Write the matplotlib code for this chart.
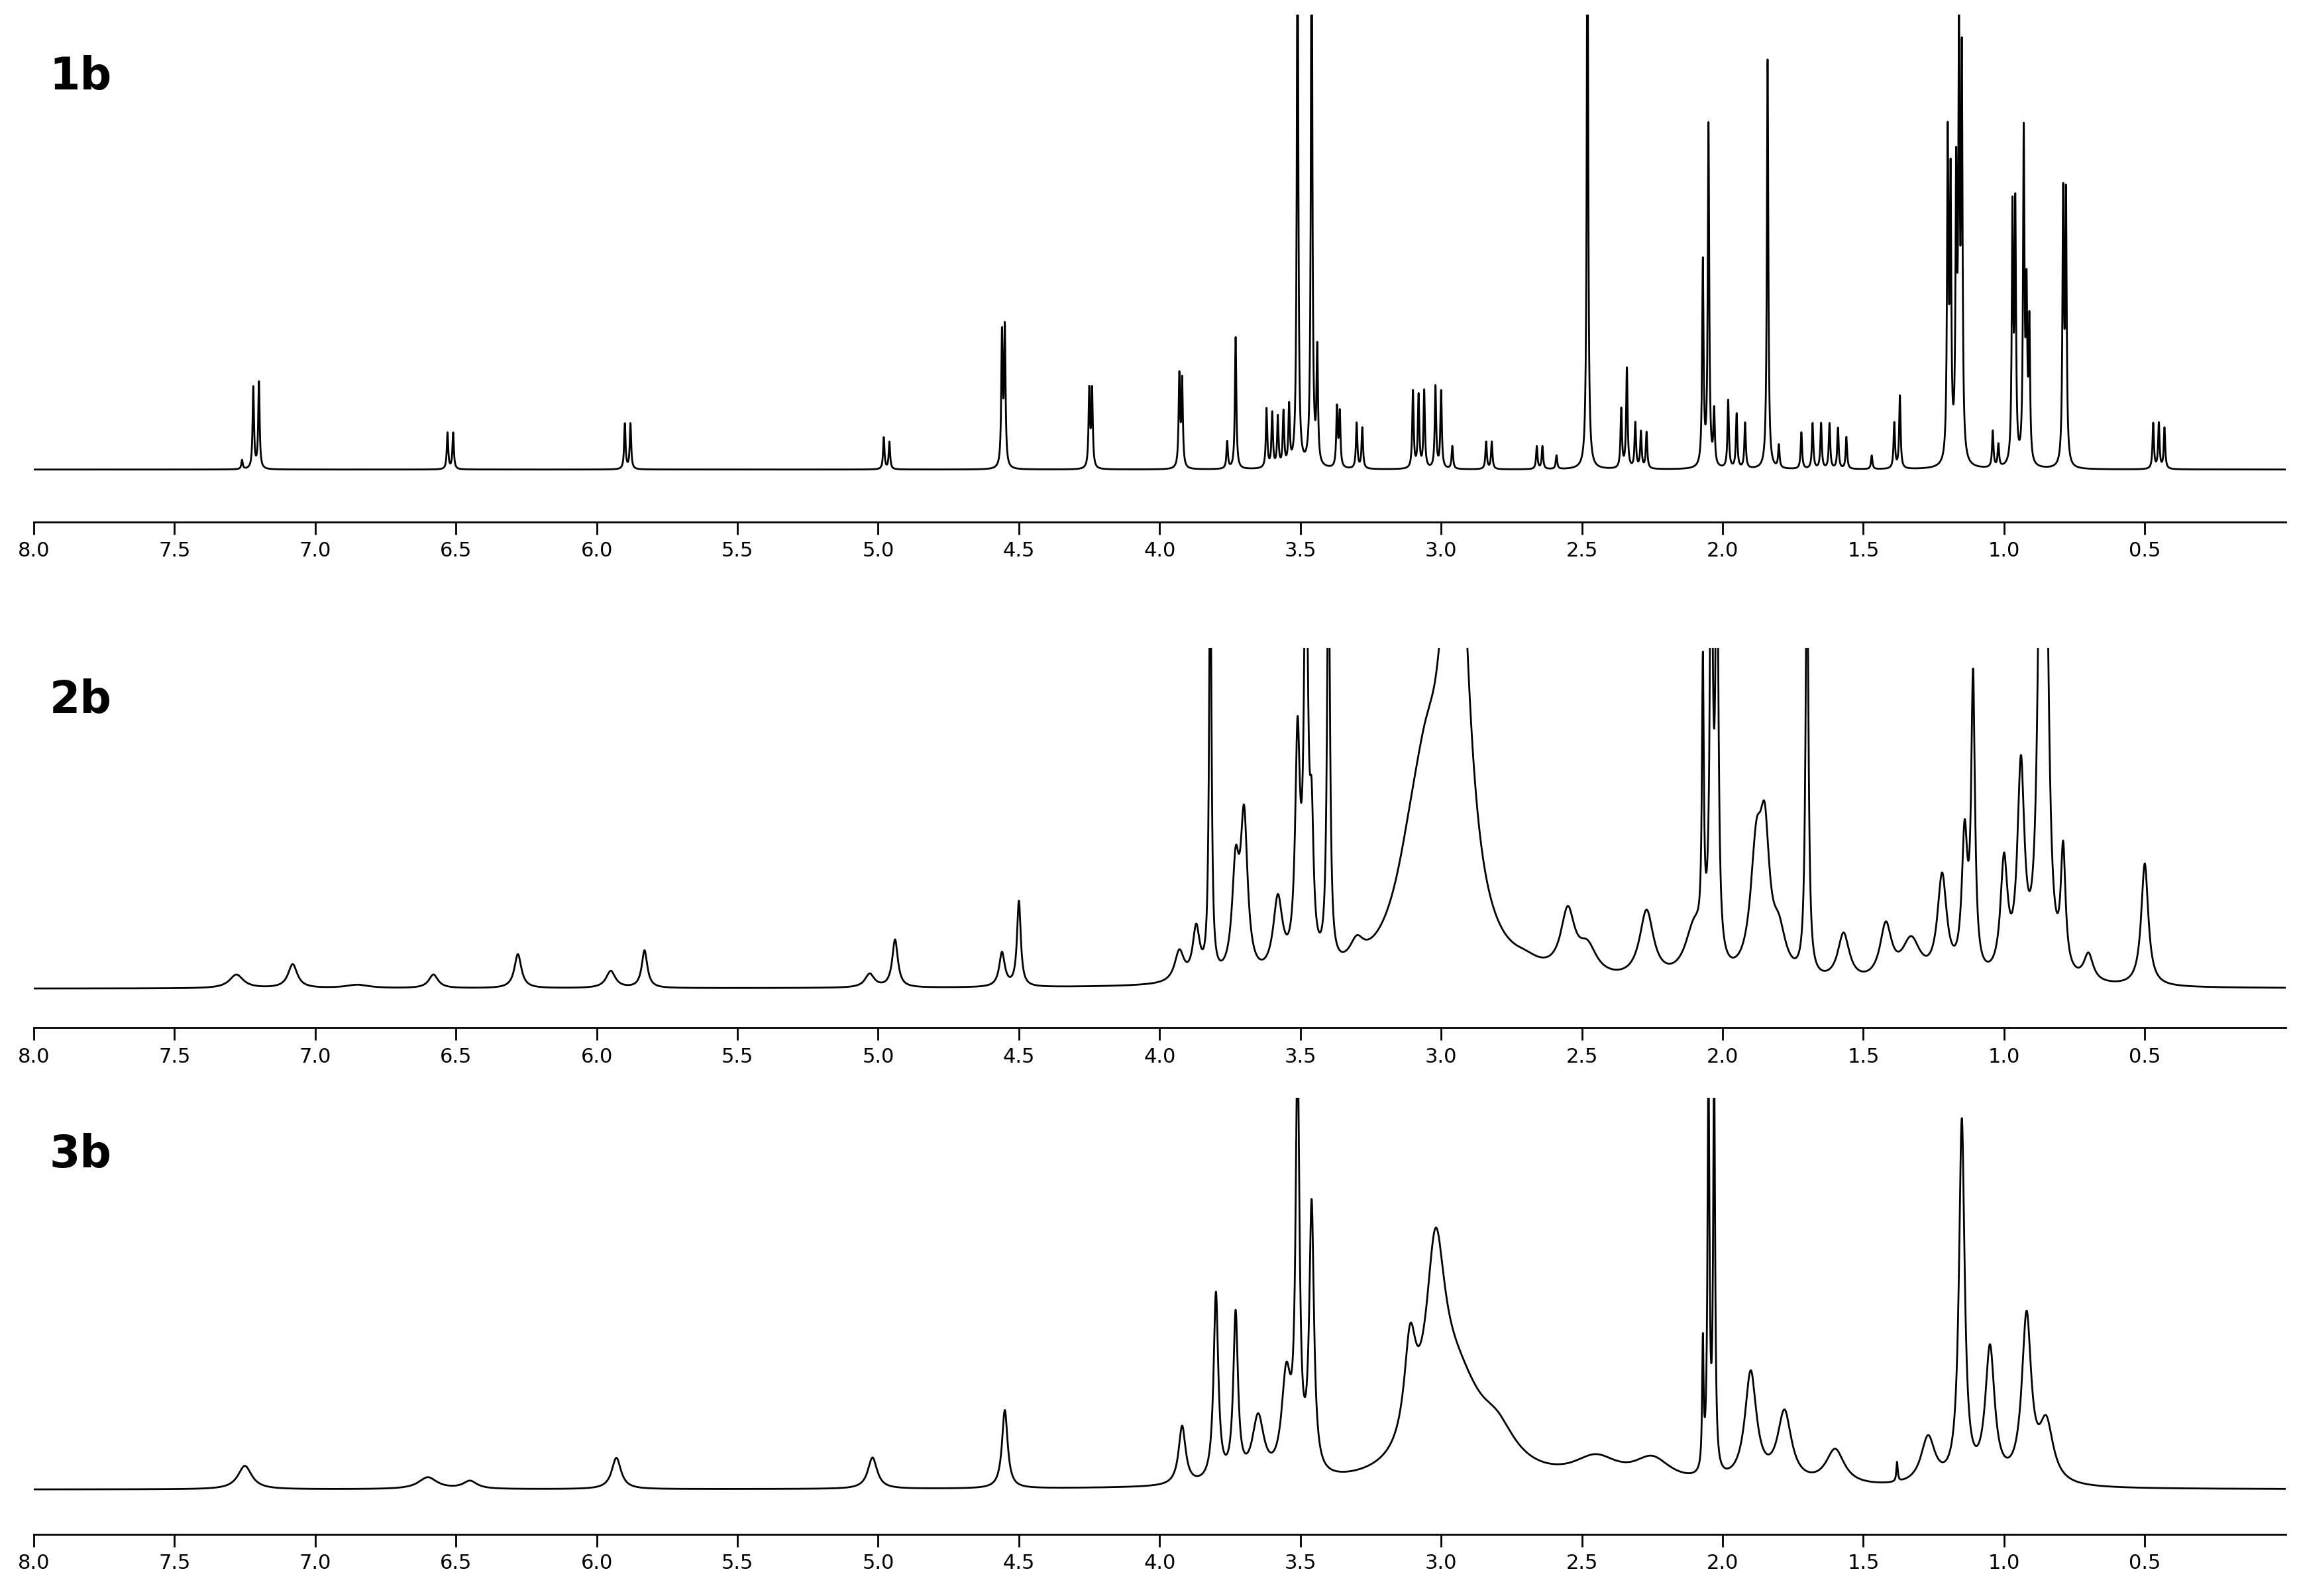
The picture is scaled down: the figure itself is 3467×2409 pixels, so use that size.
import numpy as np
import matplotlib
matplotlib.use("Agg")
import matplotlib.pyplot as plt

labels = ["1b", "2b", "3b"]
ticks = [8.0, 7.5, 7.0, 6.5, 6.0, 5.5, 5.0, 4.5, 4.0, 3.5, 3.0, 2.5, 2.0, 1.5, 1.0, 0.5]

# peaks: (ppm, height, width)
pos1 = [7.26,7.22,7.20,6.53,6.51,5.90,5.88,4.98,4.96,4.56,4.55,4.25,4.24,3.93,3.92,3.76,3.73,
        3.62,3.60,3.58,3.56,3.54,3.51,3.46,3.44,3.37,3.36,3.30,3.28,3.10,3.08,3.06,3.02,3.00,2.96,
        2.84,2.82,2.66,2.64,2.59,2.48,2.36,2.34,2.31,2.29,2.27,2.07,2.05,2.03,1.98,1.95,1.92,1.84,
        1.80,1.72,1.68,1.65,1.62,1.59,1.56,1.47,1.39,1.37,1.20,1.19,1.17,1.16,1.15,1.04,1.02,
        0.97,0.96,0.93,0.92,0.91,0.79,0.78,0.47,0.45,0.43]
hgt1 = [0.02,0.18,0.19,0.08,0.08,0.10,0.10,0.07,0.06,0.29,0.30,0.17,0.17,0.20,0.19,0.06,0.29,
        0.13,0.12,0.11,0.12,0.13,1.3,1.3,0.25,0.13,0.12,0.10,0.09,0.17,0.16,0.17,0.18,0.17,0.05,
        0.06,0.06,0.05,0.05,0.03,1.3,0.13,0.22,0.10,0.08,0.08,0.45,0.75,0.12,0.15,0.12,0.10,0.90,
        0.05,0.08,0.10,0.10,0.10,0.09,0.07,0.03,0.10,0.16,0.70,0.60,0.60,0.88,0.86,0.08,0.05,
        0.55,0.55,0.72,0.35,0.30,0.58,0.58,0.10,0.10,0.09]
wid1 = [0.003]*len(pos1)

pos2 = [7.28,7.08,6.85,6.58,6.28,5.95,5.83,5.03,4.94,4.56,4.50,3.93,3.87,3.82,3.73,3.70,3.58,
        3.51,3.48,3.46,3.40,3.30,3.10,3.05,2.95,2.70,2.55,2.48,2.27,2.10,2.07,2.04,2.02,1.88,1.85,
        1.80,1.70,1.57,1.42,1.33,1.22,1.14,1.11,1.00,0.94,0.87,0.85,0.79,0.70,0.50]
hgt2 = [0.04,0.07,0.01,0.04,0.10,0.05,0.11,0.04,0.14,0.10,0.25,0.09,0.15,1.3,0.30,0.45,0.22,
        0.65,1.3,0.35,1.3,0.06,0.25,0.30,1.6,0.02,0.18,0.08,0.20,0.15,0.8,1.3,1.3,0.35,0.35,
        0.12,1.3,0.14,0.16,0.12,0.30,0.40,0.85,0.33,0.60,1.3,1.0,0.35,0.08,0.36]
wid2 = [0.03,0.02,0.05,0.02,0.015,0.02,0.012,0.02,0.012,0.012,0.008,0.02,0.015,0.005,0.015,0.015,0.02,
        0.01,0.008,0.008,0.006,0.03,0.08,0.06,0.05,0.06,0.03,0.04,0.03,0.04,0.004,0.006,0.006,0.025,0.02,
        0.03,0.006,0.025,0.025,0.04,0.02,0.012,0.008,0.015,0.015,0.012,0.012,0.01,0.02,0.015]

pos3 = [7.25,6.60,6.45,5.93,5.02,4.55,3.92,3.80,3.73,3.65,3.55,3.51,3.46,3.11,3.02,2.95,2.80,
        2.45,2.25,2.07,2.05,2.03,1.90,1.78,1.60,1.38,1.27,1.15,1.05,0.92,0.85]
hgt3 = [0.06,0.03,0.02,0.08,0.08,0.20,0.15,0.48,0.42,0.16,0.25,1.05,0.68,0.25,0.45,0.25,0.08,
        0.06,0.06,0.32,1.05,1.05,0.28,0.18,0.09,0.05,0.12,0.92,0.34,0.42,0.15]
wid3 = [0.03,0.04,0.03,0.02,0.02,0.012,0.015,0.01,0.01,0.025,0.02,0.008,0.01,0.025,0.04,0.12,0.08,
        0.1,0.08,0.003,0.004,0.004,0.025,0.03,0.04,0.003,0.03,0.012,0.02,0.02,0.03]

spectra = [(pos1, hgt1, wid1), (pos2, hgt2, wid2), (pos3, hgt3, wid3)]
rects = [[0.0147, 0.673, 0.9803, 0.318], [0.0147, 0.356, 0.9803, 0.238], [0.0147, 0.0385, 0.9803, 0.2735]]

x = np.linspace(-0.05, 8.05, 16000)
fig = plt.figure(figsize=(17.335, 12.045), dpi=200)
for lab, (p, h, w), r in zip(labels, spectra, rects):
    ax = fig.add_axes(r)
    y = np.zeros_like(x)
    for pp, hh, ww in zip(p, h, w):
        y += hh * ww**2 / ((x - pp)**2 + ww**2)
    ax.plot(x, y, color="black", lw=1.0)
    ax.set_xlim(8.0, 0.0)
    ax.set_ylim(-0.115, 1.0)
    for s in ["top", "left", "right"]:
        ax.spines[s].set_visible(False)
    ax.spines["bottom"].set_linewidth(1.0)
    ax.set_yticks([])
    ax.set_xticks(ticks)
    ax.set_xticklabels([f"{t:.1f}" for t in ticks], fontsize=11)
    ax.tick_params(axis="x", length=7, width=1.0, direction="out")
    ax.text(0.007, 0.92, lab, transform=ax.transAxes, fontsize=24, fontweight="bold", va="top")
fig.savefig("out.png", dpi=200)
